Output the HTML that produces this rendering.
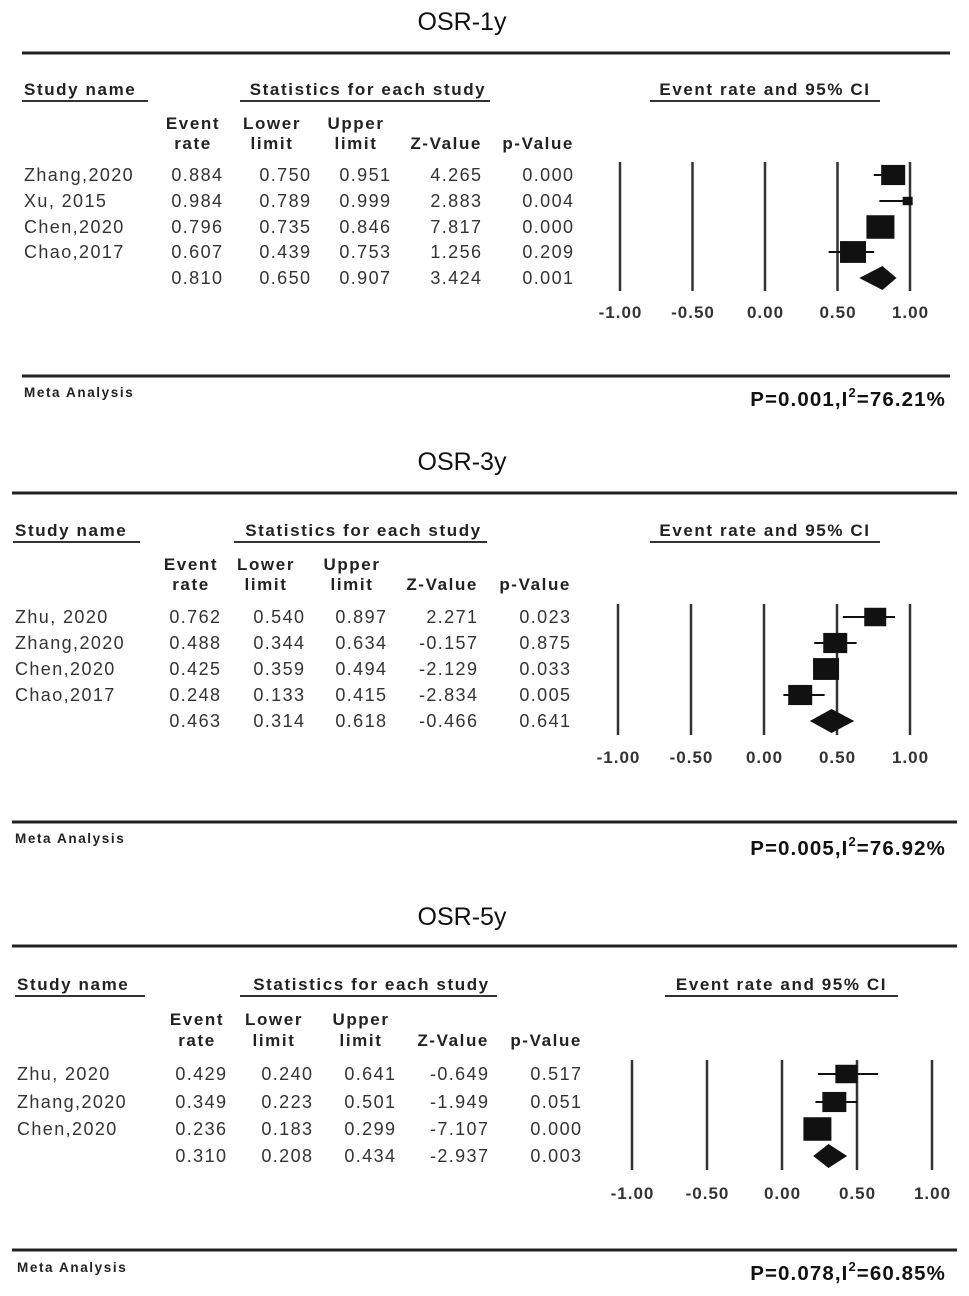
<!DOCTYPE html>
<html><head><meta charset="utf-8">
<style>
html,body{margin:0;padding:0;background:#fff;}
svg{display:block;font-family:"Liberation Sans",Arial,sans-serif;}
</style></head>
<body>
<svg id="chart" width="969" height="1296" viewBox="0 0 969 1296" xmlns="http://www.w3.org/2000/svg"></svg>
<script>
// ---- data ----
const titles = ["OSR-1y","OSR-3y","OSR-5y"];
const studies1 = ["Zhang,2020","Xu, 2015","Chen,2020","Chao,2017",""];
const rate1 = [0.884,0.984,0.796,0.607,0.810];
const lower1 = [0.750,0.789,0.735,0.439,0.650];
const upper1 = [0.951,0.999,0.846,0.753,0.907];
const z1 = ["4.265","2.883","7.817","1.256","3.424"];
const p1 = ["0.000","0.004","0.000","0.209","0.001"];
const weight1 = [24,10,28,26];

const studies2 = ["Zhu, 2020","Zhang,2020","Chen,2020","Chao,2017",""];
const rate2 = [0.762,0.488,0.425,0.248,0.463];
const lower2 = [0.540,0.344,0.359,0.133,0.314];
const upper2 = [0.897,0.634,0.494,0.415,0.618];
const z2 = ["2.271","-0.157","-2.129","-2.834","-0.466"];
const p2 = ["0.023","0.875","0.033","0.005","0.641"];
const weight2 = [22,24,26,24];

const studies3 = ["Zhu, 2020","Zhang,2020","Chen,2020",""];
const rate3 = [0.429,0.349,0.236,0.310];
const lower3 = [0.240,0.223,0.183,0.208];
const upper3 = [0.641,0.501,0.299,0.434];
const z3 = ["-0.649","-1.949","-7.107","-2.937"];
const p3 = ["0.517","0.051","0.000","0.003"];
const weight3 = [22,24,28];

const tickVals = [-1,-0.5,0,0.5,1];
const tickLabels = ["-1.00","-0.50","0.00","0.50","1.00"];
const stats = ["P=0.001,I","P=0.005,I","P=0.078,I"];
const stats2 = ["=76.21%","=76.92%","=60.85%"];

// ---- layout ----
const layouts = [
 {ty:30,rule:[22,950,53],hy:95,sx:24,sn:[22,148],st:[240,490],ci:[650,880],ch:[129,149],cols:[222,310,390,481,573],rows:[181,207,233,258,284],ax:[620,910],ly:[162,291],tk:318,br:[22,950,376],my:397,py:406},
 {ty:470,rule:[12,957,493],hy:536,sx:15,sn:[13,140],st:[234,487],ci:[650,880],ch:[570,590],cols:[220,304,386,477,570],rows:[623,649,675,701,727],ax:[618,910],ly:[604,735],tk:763,br:[12,957,822],my:843,py:855},
 {ty:925,rule:[12,957,946],hy:990,sx:17,sn:[15,145],st:[240,497],ci:[665,898],ch:[1025,1046],cols:[226,312,395,488,581],rows:[1080,1108,1135,1162],ax:[632,932],ly:[1060,1170],tk:1199,br:[12,957,1250],my:1272,py:1280}
];
const data = [
 [studies1,rate1,lower1,upper1,z1,p1,weight1],
 [studies2,rate2,lower2,upper2,z2,p2,weight2],
 [studies3,rate3,lower3,upper3,z3,p3,weight3]
];
const svg = document.getElementById('chart');
const NS = "http://www.w3.org/2000/svg";
function mk(tag, attrs, parent, text){
  const e = document.createElementNS(NS, tag);
  for (const k in attrs) e.setAttribute(k, attrs[k]);
  if (text !== undefined) e.textContent = text;
  (parent||svg).appendChild(e);
  return e;
}
layouts.forEach((L, pi) => {
  const [names, rate, lo, up, zv, pv, wt] = data[pi];
  const g = mk('g', {});
  
  
  const xs = v => L.ax[0] + (v + 1) / 2 * (L.ax[1] - L.ax[0]);

  let t = mk('text', {x:462, y:L.ty, 'font-size':25, 'text-anchor':'middle', fill:'#111'}, g, titles[pi]);
  
  
  mk('line', {x1:L.rule[0], x2:L.rule[1], y1:L.rule[2], y2:L.rule[2], stroke:'#222', 'stroke-width':3}, g);

  const HB = {'font-size':17, 'font-weight':'bold', 'letter-spacing':1.6, fill:'#222'};
  // headers
  t = mk('text', Object.assign({x:L.sx, y:L.hy}, HB), g, 'Study name');
  
  
  mk('line', {x1:L.sn[0], x2:L.sn[1], y1:L.hy+6, y2:L.hy+6, stroke:'#333', 'stroke-width':2}, g);
  t = mk('text', Object.assign({x:(L.st[0]+L.st[1])/2+3, y:L.hy, 'text-anchor':'middle'}, HB), g, 'Statistics for each study');
  
  
  mk('line', {x1:L.st[0], x2:L.st[1], y1:L.hy+6, y2:L.hy+6, stroke:'#333', 'stroke-width':2}, g);
  t = mk('text', Object.assign({x:(L.ci[0]+L.ci[1])/2, y:L.hy, 'text-anchor':'middle'}, HB), g, 'Event rate and 95% CI');
  
  
  mk('line', {x1:L.ci[0], x2:L.ci[1], y1:L.hy+6, y2:L.hy+6, stroke:'#333', 'stroke-width':2}, g);

  const colHead = [["Event","rate"],["Lower","limit"],["Upper","limit"],["","Z-Value"],["","p-Value"]];
  const colOff = [-29,-38,-34,0,0];
  colHead.forEach((h, ci) => {
    const cx = ci < 3 ? L.cols[ci] + colOff[ci] : L.cols[ci] + 1;
    const anchor = ci < 3 ? 'middle' : 'end';
    if (h[0]) { t = mk('text', Object.assign({x:cx, y:L.ch[0], 'text-anchor':anchor}, HB), g, h[0]);
      
       }
    t = mk('text', Object.assign({x:cx, y:L.ch[1], 'text-anchor':anchor}, HB), g, h[1]);
    
    
  });

  // rows
  names.forEach((n, i) => {
    const y = L.rows[i];
    if (n) { t = mk('text', {x:L.sx, y:y, 'font-size':18, 'letter-spacing':1.4, fill:'#333'}, g, n);
      
       }
    const vals = [rate[i].toFixed(3), lo[i].toFixed(3), up[i].toFixed(3), zv[i], pv[i]];
    vals.forEach((v, ci) => {
      t = mk('text', {x:L.cols[ci]+1.4, y:y, 'font-size':18, 'letter-spacing':1.4, 'text-anchor':'end', fill:'#333'}, g, v);
      
      
    });
  });

  // axis gridlines
  tickVals.forEach((v, k) => {
    const l = mk('line', {x1:xs(v), x2:xs(v), y1:L.ly[0], y2:L.ly[1], stroke:'#333', 'stroke-width':2.5}, g);
    
    
    t = mk('text', {x:xs(v)+0.5, y:L.tk, 'font-size':17, 'font-weight':'bold', 'letter-spacing':1, 'text-anchor':'middle', fill:'#333'}, g, tickLabels[k]);
    
    
  });

  // marks
  const n = names.length;
  for (let i = 0; i < n - 1; i++) {
    const y = L.rows[i] - 6;
    const ci = mk('line', {x1:xs(lo[i]), x2:xs(up[i]), y1:y, y2:y, stroke:'#111', 'stroke-width':2}, g);
    
    
    const s = wt[i];
    const r = mk('rect', {x:xs(rate[i]) - s/2, y:y - s*0.42, width:s, height:s*0.84, fill:'#111'}, g);
    
    
  }
  const dy = L.rows[n-1] - 6;
  const d = mk('polygon', {points:`${xs(lo[n-1])},${dy} ${xs(rate[n-1])},${dy-12} ${xs(up[n-1])},${dy} ${xs(rate[n-1])},${dy+12}`, fill:'#111'}, g);
  
  

  // footer
  mk('line', {x1:L.br[0], x2:L.br[1], y1:L.br[2], y2:L.br[2], stroke:'#222', 'stroke-width':3}, g);
  t = mk('text', {x:L.sx, y:L.my, 'font-size':13.5, 'font-weight':'bold', 'letter-spacing':1.6, fill:'#222'}, g, 'Meta Analysis');
  
  
  t = mk('text', {x:946, y:L.py, 'font-size':20.5, 'font-weight':'bold', 'letter-spacing':1.1, 'text-anchor':'end', fill:'#111'}, g);
  
  
  mk('tspan', {}, t, stats[pi]);
  mk('tspan', {dy:-9, 'font-size':13}, t, '2');
  mk('tspan', {dy:9}, t, stats2[pi]);
});
</script>
</body></html>
